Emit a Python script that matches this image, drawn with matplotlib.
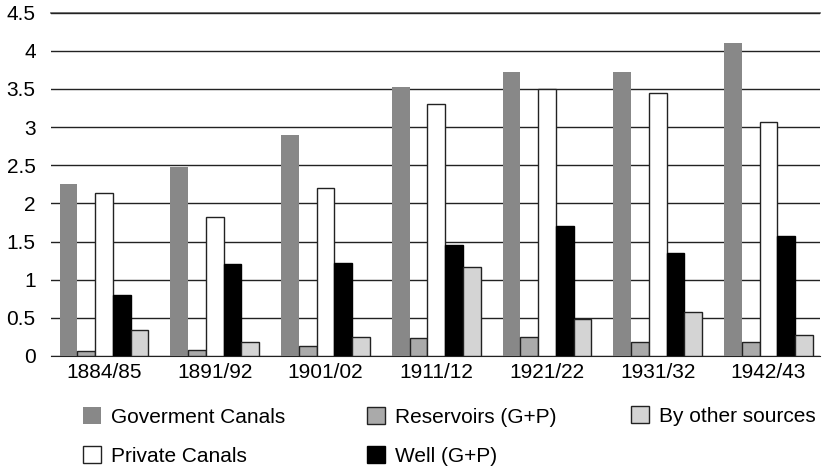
import numpy as np
import matplotlib.pyplot as plt

years = ["1884/85", "1891/92", "1901/02", "1911/12", "1921/22", "1931/32", "1942/43"]
gov_canals = [2.25, 2.48, 2.90, 3.53, 3.72, 3.72, 4.10]
reservoirs = [0.07, 0.08, 0.13, 0.23, 0.25, 0.18, 0.18]
private_canals = [2.14, 1.82, 2.20, 3.30, 3.50, 3.45, 3.07]
wells = [0.80, 1.20, 1.22, 1.45, 1.70, 1.35, 1.57]
other_sources = [0.34, 0.18, 0.25, 1.16, 0.48, 0.57, 0.27]

plt.rcParams["font.family"] = ["Liberation Sans", "DejaVu Sans"]

fig = plt.figure(figsize=(8.22, 4.71), dpi=100)
ax = fig.add_axes([0.062, 0.2442, 0.9355, 0.7289])

x = np.arange(len(years))
w = 0.16
series = [
    ("Goverment Canals", gov_canals, "#888888", "none"),
    ("Reservoirs (G+P)", reservoirs, "#aaaaaa", "#222222"),
    ("Private Canals", private_canals, "white", "#222222"),
    ("Well (G+P)", wells, "black", "black"),
    ("By other sources", other_sources, "#d4d4d4", "#222222"),
]
bars = {}
for i, (name, vals, fc, ec) in enumerate(series):
    bars[name] = ax.bar(x + (i - 2) * w, vals, w, color=fc, edgecolor=ec,
                        linewidth=1.0, label=name, zorder=3)

ax.set_ylim(0, 4.5)
ax.set_xlim(-0.479, 6.465)
ax.set_yticks(np.arange(0, 4.51, 0.5))
ax.set_yticklabels(["0", "0.5", "1", "1.5", "2", "2.5", "3", "3.5", "4", "4.5"])
ax.set_xticks(x)
ax.set_xticklabels(years)
ax.yaxis.grid(True, color="#222222", linewidth=1.0, zorder=0)
ax.axhline(4.5, color="#555555", linewidth=1.2, zorder=1, clip_on=False)
for s in ["top", "right", "left"]:
    ax.spines[s].set_visible(False)
ax.spines["bottom"].set_color("#222222")
ax.tick_params(axis="both", length=0, labelsize=15)
ax.tick_params(axis="x", pad=5)
ax.tick_params(axis="y", pad=11)

# legend in three columns, placed one column at a time
cols = [
    (["Goverment Canals", "Private Canals"], 0.101, 0.0733),
    (["Reservoirs (G+P)", "Well (G+P)"], 0.4465, 0.0733),
    (["By other sources"], 0.768, 0.1168),
]
for names, lx, ly in cols:
    leg = fig.legend([bars[n] for n in names], names, frameon=False,
                     loc="center left", bbox_to_anchor=(lx, ly), fontsize=15,
                     handlelength=0.87, handleheight=0.87, handletextpad=0.45,
                     labelspacing=0.95, borderpad=0, borderaxespad=0)

fig.savefig("out.png", dpi=100)
